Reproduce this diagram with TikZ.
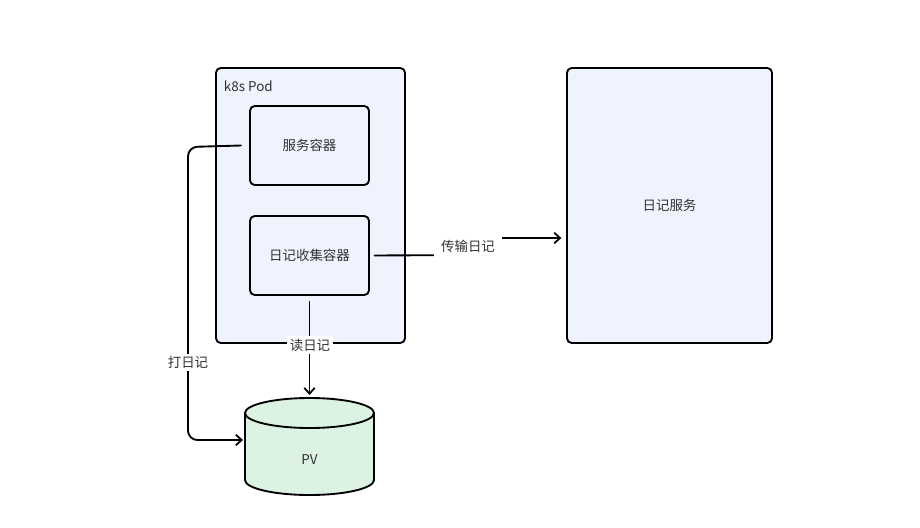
\documentclass[tikz,border=0pt]{standalone}
\usepackage{fontspec}
\setmainfont{Noto Sans CJK SC}
\usetikzlibrary{arrows.meta}
\definecolor{boxblue}{HTML}{EFF3FD}
\definecolor{pvgreen}{HTML}{DCF3E3}
\definecolor{txt}{HTML}{333333}
\begin{document}
\begin{tikzpicture}[x=0.03cm, y=-0.03cm, line width=1.6pt, line join=round, line cap=round,
    font=\fontsize{11.5}{13}\selectfont, text=txt,
    >={Straight Barb[length=5pt, width=9pt, line width=1.5pt]},
    box/.style={draw, fill=boxblue, rounded corners=4pt, inner sep=0pt},
    lbl/.style={fill=white, inner sep=2pt}]
				\useasboundingbox (0,0) rectangle (920,527);
				% boxes
				\node [box, minimum width=189*0.03cm, minimum height=275*0.03cm] (pod) at (310.5,205.5) {};
				\node [anchor=west] (podname) at (219,86) {k8s Pod};
				\node [box, minimum width=119*0.03cm, minimum height=79*0.03cm] (svc) at (309.5,145.5) {服务容器};
				\node [box, minimum width=119*0.03cm, minimum height=79*0.03cm] (col) at (309.5,255.5) {日记收集容器};
				\node [box, minimum width=205*0.03cm, minimum height=275*0.03cm] (logsrv) at (669.5,205.5) {日记服务};
				% PV cylinder
				\fill [pvgreen] (245,413) -- (245,480) arc [start angle=180, end angle=0, x radius=64.5, y radius=15]
				-- (374,413) arc [start angle=0, end angle=-180, x radius=64.5, y radius=15] -- cycle;
				\draw (245,413) -- (245,480) arc [start angle=180, end angle=0, x radius=64.5, y radius=15] -- (374,413);
				\draw (309.5,413) ellipse [x radius=64.5, y radius=15];
				\node (pv) at (309.5,460) {PV};
				\coordinate (pvleft) at (243,440);
				\coordinate (pvtop) at (309.5,395);
				% connectors
				\draw [->, rounded corners=8pt] ([xshift=-7pt]svc.west) -- (188,147) -- (188,440) -- (pvleft);
				\node [lbl] (write) at (188,362) {打日记};
				\draw [->] ([yshift=-5pt]col.south) -- (pvtop);
				\node [lbl] (read) at (310,345) {读日记};
				\draw [->] ([xshift=4pt]col.east) -- (468,255) -- (468,238) -- ([xshift=-4pt]logsrv.west |- 0,238);
				\node [lbl, inner sep=6pt] (send) at (468,246) {传输日记};
			\end{tikzpicture}
\end{document}
